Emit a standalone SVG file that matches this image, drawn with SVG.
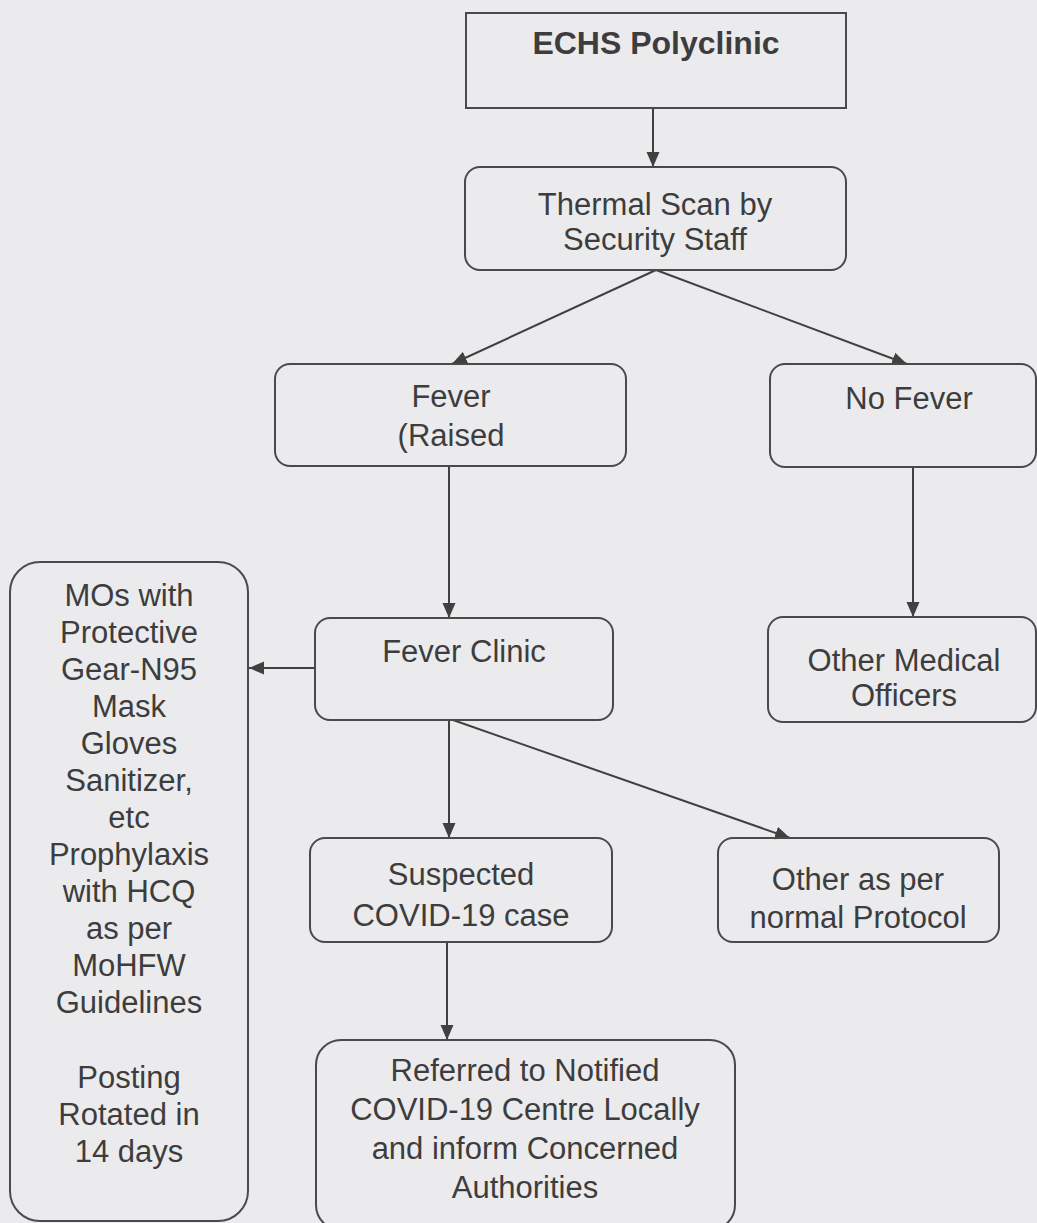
<svg xmlns="http://www.w3.org/2000/svg" width="1037" height="1223" viewBox="0 0 1037 1223">
  <defs>
    <marker id="arr" viewBox="0 0 15 14" refX="15" refY="7" markerWidth="15" markerHeight="14" markerUnits="userSpaceOnUse" orient="auto">
      <path d="M0,0.5 L15,7 L0,13.5 Z" fill="#404040"/>
    </marker>
    <style>
      .box { fill: none; stroke: #4a4a4a; stroke-width: 2; }
      .t { font-family: "Liberation Sans", Arial, sans-serif; font-size: 31px; fill: #3d3d3d; text-anchor: middle; }
      .b { font-weight: bold; font-size: 32px; }
      .c { fill: none; stroke: #404040; stroke-width: 2; marker-end: url(#arr); }
    </style>
  </defs>
  <rect width="1037" height="1223" fill="#ebebee"/>

  <g id="connectors">
    <line class="c" x1="653" y1="108" x2="653" y2="167"/>
    <line class="c" x1="656" y1="270" x2="452" y2="364"/>
    <line class="c" x1="656" y1="270" x2="907" y2="364"/>
    <line class="c" x1="449" y1="466" x2="449" y2="618"/>
    <line class="c" x1="913" y1="467" x2="913" y2="617"/>
    <line class="c" x1="315" y1="668" x2="249" y2="668"/>
    <line class="c" x1="449" y1="720" x2="449" y2="838"/>
    <line class="c" x1="453" y1="720" x2="790" y2="838"/>
    <line class="c" x1="447" y1="942" x2="447" y2="1040"/>
  </g>

  <g id="echs">
    <rect class="box" x="466" y="13" width="380" height="95"/>
    <text class="t b" x="656" y="54">ECHS Polyclinic</text>
  </g>

  <g id="thermal">
    <rect class="box" x="465" y="167" width="381" height="103" rx="15"/>
    <text class="t" x="655" y="215">Thermal Scan by</text>
    <text class="t" x="655" y="250">Security Staff</text>
  </g>

  <g id="fever">
    <rect class="box" x="275" y="364" width="351" height="102" rx="15"/>
    <text class="t" x="451" y="407">Fever</text>
    <text class="t" x="451" y="446">(Raised</text>
  </g>

  <g id="nofever">
    <rect class="box" x="770" y="364" width="266" height="103" rx="15"/>
    <text class="t" x="909" y="409">No Fever</text>
  </g>

  <g id="feverclinic">
    <rect class="box" x="315" y="618" width="298" height="102" rx="15"/>
    <text class="t" x="464" y="662">Fever Clinic</text>
  </g>

  <g id="othermedical">
    <rect class="box" x="768" y="617" width="268" height="105" rx="15"/>
    <text class="t" x="904" y="671">Other Medical</text>
    <text class="t" x="904" y="706">Officers</text>
  </g>

  <g id="mos">
    <rect class="box" x="10" y="562" width="238" height="659" rx="30"/>
    <text class="t" x="129" y="606">MOs with</text>
    <text class="t" x="129" y="643">Protective</text>
    <text class="t" x="129" y="680">Gear-N95</text>
    <text class="t" x="129" y="717">Mask</text>
    <text class="t" x="129" y="754">Gloves</text>
    <text class="t" x="129" y="791">Sanitizer,</text>
    <text class="t" x="129" y="828">etc</text>
    <text class="t" x="129" y="865">Prophylaxis</text>
    <text class="t" x="129" y="902">with HCQ</text>
    <text class="t" x="129" y="939">as per</text>
    <text class="t" x="129" y="976">MoHFW</text>
    <text class="t" x="129" y="1013">Guidelines</text>
    <text class="t" x="129" y="1088">Posting</text>
    <text class="t" x="129" y="1125">Rotated in</text>
    <text class="t" x="129" y="1162">14 days</text>
  </g>

  <g id="suspected">
    <rect class="box" x="310" y="838" width="302" height="104" rx="15"/>
    <text class="t" x="461" y="885">Suspected</text>
    <text class="t" x="461" y="926">COVID-19 case</text>
  </g>

  <g id="otherprotocol">
    <rect class="box" x="718" y="838" width="281" height="104" rx="15"/>
    <text class="t" x="858" y="890">Other as per</text>
    <text class="t" x="858" y="928">normal Protocol</text>
  </g>

  <g id="referred">
    <rect class="box" x="316" y="1040" width="419" height="190" rx="25"/>
    <text class="t" x="525" y="1081">Referred to Notified</text>
    <text class="t" x="525" y="1120">COVID-19 Centre Locally</text>
    <text class="t" x="525" y="1159">and inform Concerned</text>
    <text class="t" x="525" y="1198">Authorities</text>
  </g>
</svg>
